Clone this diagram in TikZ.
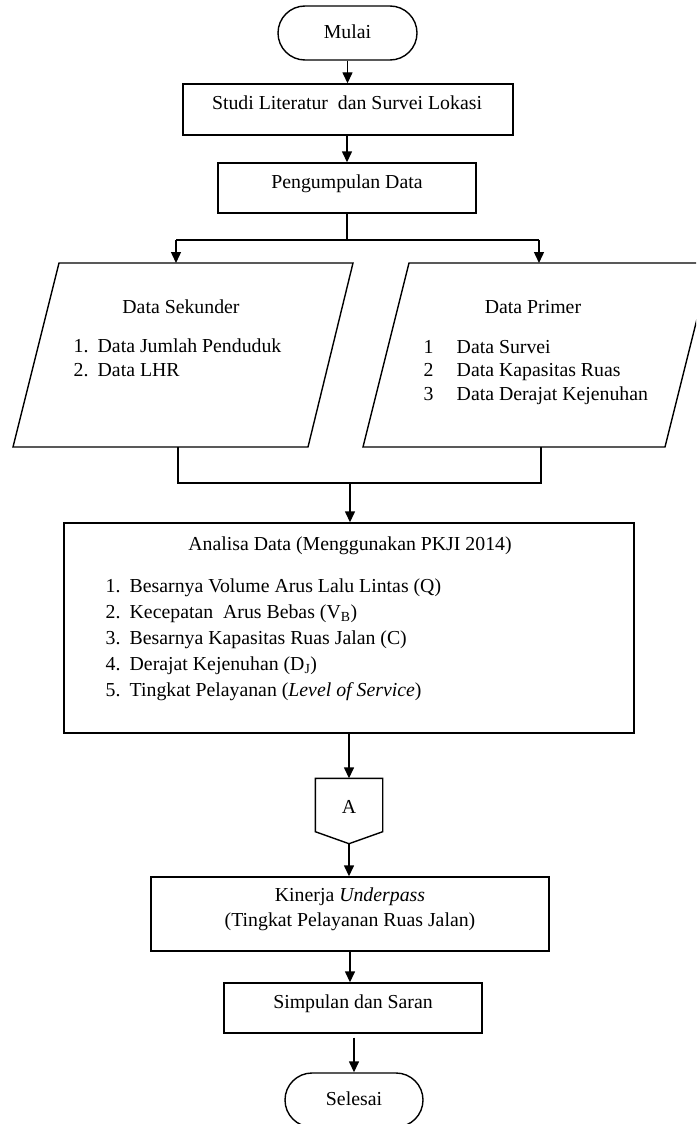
\documentclass[tikz,border=0pt]{standalone}
\usepackage{fontspec}
\setmainfont{Liberation Serif}
\usetikzlibrary{arrows.meta}
\begin{document}
\begin{tikzpicture}[x=1pt,y=-1pt,
  line width=1.4pt,
  box/.style={draw, line width=1.4pt, inner sep=0pt, fill=white},
  term/.style={box, rounded corners=27pt},
  txt/.style={inner sep=0pt, anchor=base, font=\fontsize{19.8pt}{23pt}\selectfont},
  itm/.style={txt, anchor=base west},
  arr/.style={-{Triangle[length=11pt,width=10pt]}, line width=1.4pt}]
\useasboundingbox (0,0) rectangle (696,1124);
\clip (0,0) rectangle (696,1124);
\fill[white] (0,0) rectangle (696,1124);

% boxes
\node[term, minimum width=139pt, minimum height=54pt] (mulai) at (347.5,33) {};
\node[box, minimum width=330pt, minimum height=51pt] (studi) at (348,109.5) {};
\node[box, minimum width=258pt, minimum height=50pt] (peng) at (347,188) {};
\node[box, minimum width=570pt, minimum height=210pt] (analisa) at (349,628) {};
\node[inner sep=0pt, minimum width=66pt, minimum height=64pt] (A) at (349,811) {};
\draw (A.north west) -- (A.north east) -- ([yshift=12pt]A.south east) -- (A.south)
      -- ([yshift=12pt]A.south west) -- cycle;
\node[box, minimum width=398pt, minimum height=74pt] (kinerja) at (350,914) {};
\node[box, minimum width=258pt, minimum height=50pt] (simpulan) at (353,1008) {};
\node[term, minimum width=138pt, minimum height=54pt] (selesai) at (354,1100) {};

% parallelograms
\coordinate (sTL) at (59,263);  \coordinate (sTR) at (353,263);
\coordinate (sBR) at (308,447); \coordinate (sBL) at (13,447);
\coordinate (pTL) at (409,263); \coordinate (pTR) at (711,263);
\coordinate (pBR) at (665,447); \coordinate (pBL) at (363,447);
\draw (sTL) -- (sTR) -- (sBR) -- (sBL) -- cycle;
\draw (pTL) -- (pTR) -- (pBR) -- (pBL) -- cycle;

% connector points
\coordinate (split) at (347,240);
\coordinate (splitL) at (176,240);
\coordinate (splitR) at (539,240);
\coordinate (sekIn) at (176,263);
\coordinate (primIn) at (539,263);
\coordinate (sekOut) at (178,447);
\coordinate (primOut) at (541,447);
\coordinate (joinL) at (178,483);
\coordinate (joinR) at (541,483);
\coordinate (join) at (350,483);

% texts
\node[txt] (tmulai) at (347.5,39) {Mulai};
\node[txt] (tstudi) at (347,109) {Studi Literatur\ \ dan Survei Lokasi};
\node[txt] (tpeng) at (347,188) {Pengumpulan Data};

\node[txt] (tsek) at (181,313) {Data Sekunder};
\node[itm] (s1n) at (73,352) {1.};
\node[itm] (s1) at (97,352) {Data Jumlah Penduduk};
\node[itm] (s2n) at (73,376) {2.};
\node[itm] (s2) at (97,376) {Data LHR};

\node[txt] (tprim) at (533,313) {Data Primer};
\node[itm] (p1n) at (423,353) {1};
\node[itm] (p1) at (456,353) {Data Survei};
\node[itm] (p2n) at (423,376.5) {2};
\node[itm] (p2) at (456,376.5) {Data Kapasitas Ruas};
\node[itm] (p3n) at (423,400) {3};
\node[itm] (p3) at (456,400) {Data Derajat Kejenuhan};

\node[txt] (tana) at (350,550) {Analisa Data (Menggunakan PKJI 2014)};
\node[itm] (a1n) at (105,592) {1.};
\node[itm] (a1) at (129,592) {Besarnya Volume Arus Lalu Lintas (Q)};
\node[itm] (a2n) at (105,618) {2.};
\node[itm] (a2) at (129,618) {Kecepatan\ \ Arus Bebas (V\textsubscript{B})};
\node[itm] (a3n) at (105,644) {3.};
\node[itm] (a3) at (129,644) {Besarnya Kapasitas Ruas Jalan (C)};
\node[itm] (a4n) at (105,670) {4.};
\node[itm] (a4) at (129,670) {Derajat Kejenuhan (D\textsubscript{J})};
\node[itm] (a5n) at (105,696) {5.};
\node[itm] (a5) at (129,696) {Tingkat Pelayanan (\textit{Level of Service})};

\node[txt] (tA) at (349,813) {A};
\node[txt] (tkin1) at (350,901) {Kinerja \textit{Underpass}};
\node[txt] (tkin2) at (350,926) {(Tingkat Pelayanan Ruas Jalan)};
\node[txt] (tsimp) at (353,1008) {Simpulan dan Saran};
\node[txt] (tsel) at (354,1105) {Selesai};

% connectors
\draw[arr] (mulai.south) -- (mulai.south |- studi.north);
\draw[arr] (studi.south -| peng.north) -- (peng.north);
\draw (peng.south) -- (split);
\draw (splitL) -- (splitR);
\draw[arr] (splitL) -- (sekIn);
\draw[arr] (splitR) -- (primIn);
\draw (sekOut) -- (joinL) -- (joinR) -- (primOut);
\draw[arr] (join) -- (join |- analisa.north);
\draw[arr] (analisa.south) -- (A.north);
\draw[arr] (A.south) -- (A.south |- kinerja.north);
\draw[arr] (kinerja.south) -- (kinerja.south |- simpulan.north);
\draw[arr] ([yshift=-4pt]simpulan.south -| selesai.north) -- (selesai.north);
\end{tikzpicture}
\end{document}
